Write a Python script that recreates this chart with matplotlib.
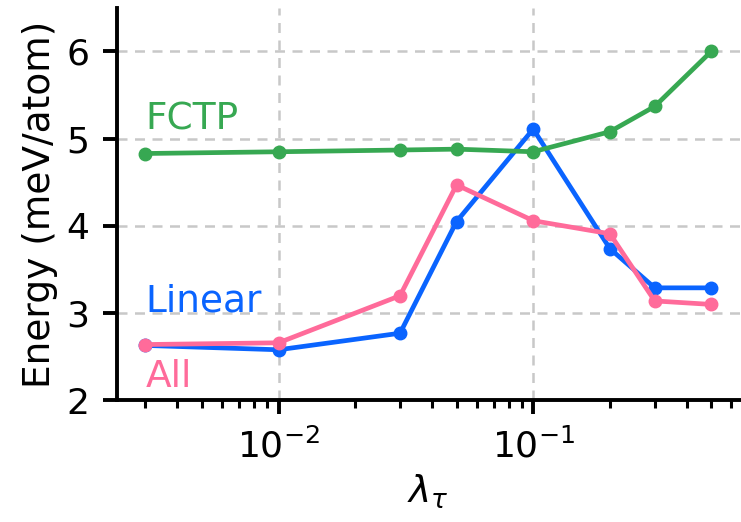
import matplotlib
matplotlib.use("Agg")
import matplotlib.pyplot as plt

# lambda_tau values and energies (meV/atom)
lam = [0.003, 0.01, 0.03, 0.05, 0.1, 0.2, 0.3, 0.5]
e_linear = [2.63, 2.58, 2.77, 4.05, 5.11, 3.74, 3.29, 3.29]
e_all = [2.64, 2.66, 3.20, 4.47, 4.06, 3.91, 3.14, 3.10]
e_fctp = [4.83, 4.85, 4.87, 4.88, 4.85, 5.08, 5.37, 6.00]

c_linear = '#0a64ff'
c_all = '#ff6b9a'
c_fctp = '#37a852'

fig, ax = plt.subplots(figsize=(7.41, 5.22), dpi=100)
kw = dict(lw=3.4, marker='o', ms=9)
ax.plot(lam, e_linear, color=c_linear, **kw)
ax.plot(lam, e_all, color=c_all, **kw)
ax.plot(lam, e_fctp, color=c_fctp, **kw)

ax.set_xscale('log')
ax.set_ylim(2, 6.5)
ax.set_yticks([2, 3, 4, 5, 6])

ax.text(0.003, 5.11, 'FCTP', color=c_fctp, fontsize=27)
ax.text(0.003, 3.02, 'Linear', color=c_linear, fontsize=27)
ax.text(0.003, 2.15, 'All', color=c_all, fontsize=27)

ax.set_xlabel(r'$\lambda_\tau$', fontsize=27, labelpad=6)
ax.set_ylabel('Energy (meV/atom)', fontsize=27, labelpad=6)
ax.grid(True, ls=(0, (4, 3)), color='#c8c8c8', lw=1.8)
ax.set_axisbelow(True)
for s in ['top', 'right']:
    ax.spines[s].set_visible(False)
for s in ['left', 'bottom']:
    ax.spines[s].set_linewidth(2.8)
ax.tick_params(which='major', labelsize=26, length=10, width=2.8, pad=10)
ax.tick_params(which='minor', length=5.5, width=2.2)

plt.subplots_adjust(left=0.158, right=0.998, bottom=0.233, top=0.985)
fig.savefig('out.png', dpi=100)
